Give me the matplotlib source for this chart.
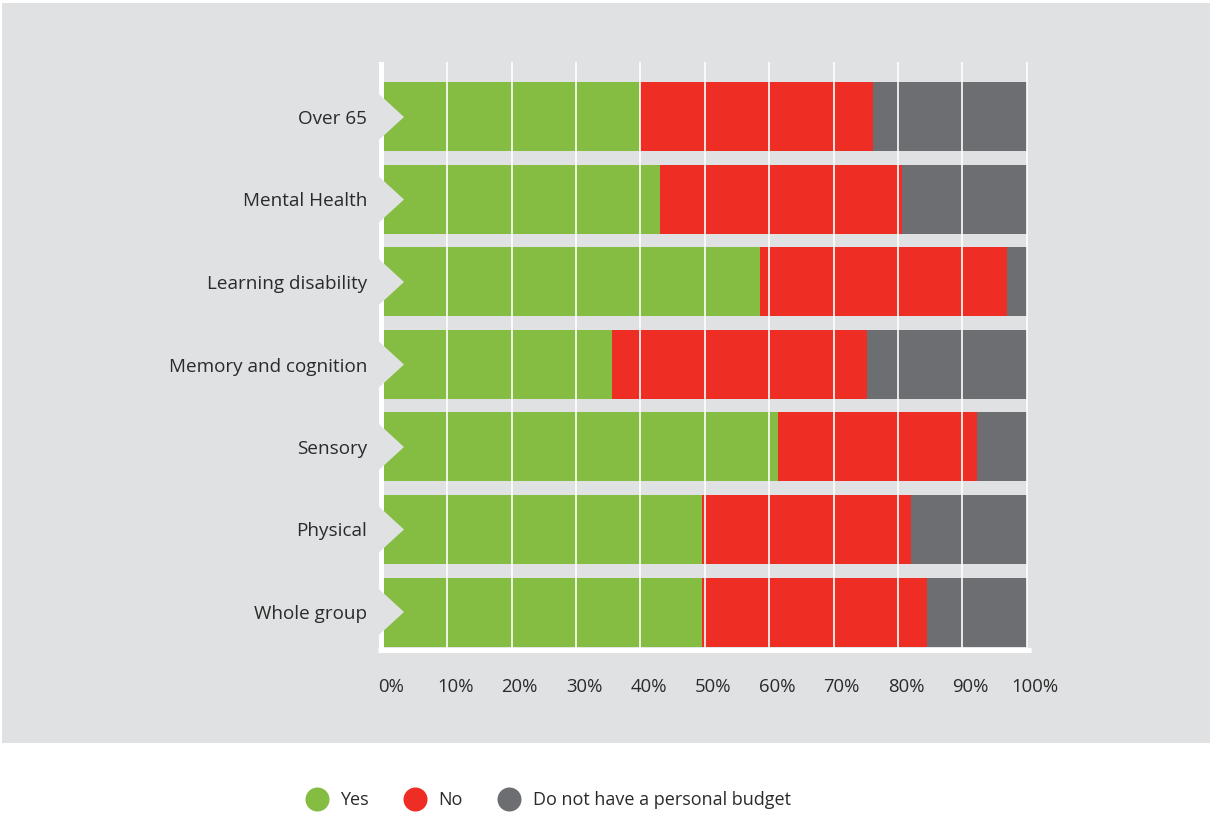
import matplotlib
matplotlib.use('Agg')
import matplotlib.pyplot as plt
from matplotlib.patches import Rectangle, Polygon
from matplotlib.lines import Line2D
import matplotlib.transforms as mtransforms

# ---- data (bottom to top) ----
categories = ['Whole group', 'Physical', 'Sensory', 'Memory and cognition',
              'Learning disability', 'Mental Health', 'Over 65']
yes = [49.5, 49.5, 61.4, 35.6, 58.6, 43.0, 39.9]
no = [35.0, 32.6, 30.9, 39.6, 38.4, 37.6, 36.2]
no_budget = [100 - a - b for a, b in zip(yes, no)]
series_names = ['Yes', 'No', 'Do not have a personal budget']
xtick_vals = list(range(0, 101, 10))
xtick_labels = [f'{v}%' for v in xtick_vals]

# ---- style ----
colors = ['#84bd41', '#ee2e24', '#6d6e71']
bg = '#e0e1e3'
txt = '#2a2a2a'
plt.rcParams['font.family'] = ['Open Sans', 'DejaVu Sans']

W, H = 1210, 821
fig = plt.figure(figsize=(W / 100, H / 100), dpi=100, facecolor='white')
fig.patches.append(Rectangle((2 / W, (H - 743) / H), 1, (743 - 3) / H, transform=fig.transFigure,
                             facecolor=bg, edgecolor='none', zorder=-5))

ax = fig.add_axes([376 / W, (H - 653) / H, (1032 - 376) / W, (653 - 62) / H])
ax.set_zorder(2)
ax.set_facecolor('none')
pxx = 6.437   # px per percent
pitch = 82.5  # px per row
ax.set_xlim((376 - 383) / pxx, (1032 - 383) / pxx)
ax.set_ylim(-41 / pitch, (612 - 62) / pitch)
for s in ax.spines.values():
    s.set_visible(False)

ys = list(range(len(categories)))
left = [0] * len(ys)
for vals, c in zip([yes, no, no_budget], colors):
    ax.barh(ys, vals, left=left, height=69 / pitch, color=c, edgecolor='none', zorder=2)
    left = [l + v for l, v in zip(left, vals)]

ybot = -38 / pitch
ax.vlines(xtick_vals[1:], ybot, 7, color='white', lw=1.2, zorder=3)
ax.vlines(-2.5 / pxx, ybot, 7, color='white', lw=3.6, zorder=3)
ax.hlines(ybot, -5 / pxx, 648 / pxx, color='white', lw=3.8, zorder=3)

for y in ys:
    ax.add_patch(Polygon([(-5.2 / pxx, y + 24 / pitch), (21 / pxx, y), (-5.2 / pxx, y - 24 / pitch)],
                         closed=True, facecolor=bg, edgecolor='none', zorder=4))

ax.set_yticks(ys, categories)
ax.set_xticks(xtick_vals, xtick_labels)
ax.tick_params(axis='y', length=0, pad=6.5, labelsize=13.6, labelcolor=txt)
ax.tick_params(axis='x', length=0, pad=18, labelsize=13.3, labelcolor=txt)
off = mtransforms.ScaledTranslation(8 / 100, 0, fig.dpi_scale_trans)
for lab in ax.get_xticklabels():
    lab.set_transform(lab.get_transform() + off)

handles = [Line2D([], [], marker='o', linestyle='none', markersize=17.3,
                  markerfacecolor=c, markeredgecolor='none') for c in colors]
fig.legend(handles, series_names, loc='center left', bbox_to_anchor=(299 / W, (H - 800) / H),
           ncol=3, frameon=False, fontsize=13, labelcolor=txt, borderpad=0,
           handlelength=1.0, handletextpad=0.8, columnspacing=2.05)

fig.savefig('out.png', dpi=100, facecolor='white')
